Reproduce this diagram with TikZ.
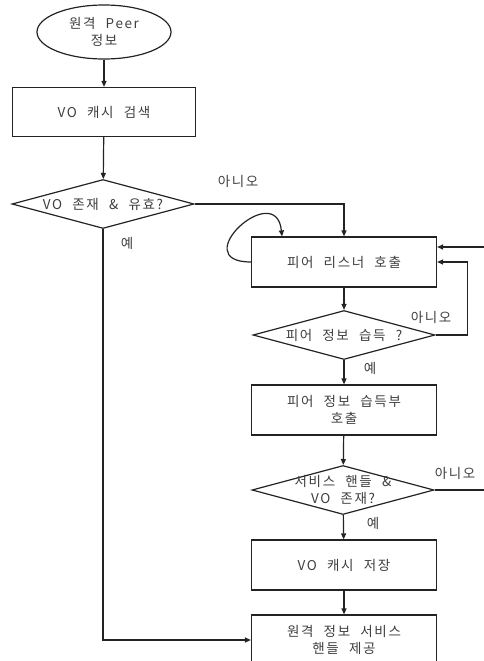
\documentclass[tikz,border=0pt]{standalone}
\usepackage{fontspec}
\newfontfamily\krfont[LetterSpace=12, WordSpace=2.2]{Noto Sans CJK KR}
\usetikzlibrary{arrows.meta,shapes.geometric}
\definecolor{txtgray}{RGB}{62,62,62}
\definecolor{linegray}{RGB}{35,35,35}
\begin{document}
\begin{tikzpicture}[x=1pt, y=-1pt,
  every node/.style={font=\krfont\fontsize{13.5}{16.5}\selectfont, text=txtgray, align=center},
  term/.style={draw=linegray, ellipse, line width=1.2pt, minimum width=134pt, minimum height=54pt, inner sep=0pt},
  proc/.style={draw=linegray, line width=1.2pt, minimum width=185pt, minimum height=50pt, inner sep=0pt},
  decision/.style={draw=linegray, diamond, aspect=3.7, line width=1.2pt, minimum width=182pt, minimum height=49pt, inner sep=0pt},
  arr/.style={draw=linegray, -{Triangle[length=6pt,width=5pt]}, line width=1.2pt},
]
\useasboundingbox (0,0) rectangle (484,661);
\node[term] (start) at (104,32) {원격 Peer\\정보};
\node[proc, minimum width=183pt, minimum height=49pt] (srch) at (104,112) {VO 캐시 검색};
\node[decision] (d1) at (103,204) {VO 존재 \& 유효?};
\node[proc] (lsn) at (344,262) {피어 리스너 호출};
\node[decision] (d2) at (344,335) {피어 정보 습득 ?};
\node[proc] (acq) at (344,410) {피어 정보 습득부\\호출};
\node[decision, inner ysep=-6pt] (d3) at (343,490) {서비스 핸들 \&\\VO 존재?};
\node[proc] (save) at (344,565) {VO 캐시 저장};
\node[proc] (out) at (344,640) {원격 정보 서비스\\핸들 제공};
% main flow
\draw[arr] (start) -- (srch);
\draw[arr] (srch) -- (d1);
\draw[arr] (lsn) -- (d2);
\draw[arr] (d2) -- (acq);
\draw[arr] (acq) -- (d3);
\draw[arr] (d3) -- (save);
\draw[arr] (save) -- (out);
% branches
\draw[arr] (d1.east) -| (lsn.north);
\draw[arr] (d1.south) |- (out.west);
\draw[arr] (lsn.west) .. controls (185,262) and (276,178) .. ([xshift=-62pt]lsn.north);
\draw[arr] (d2.east) -- ++(32,0) |- (lsn.east);
\draw[arr] (d3.east) -- ++(60,0) |- ([yshift=15pt]lsn.east);
% labels
\node (no1) at (238,181) {아니오};
\node (yes1) at (127,243) {예};
\node (no2) at (431,317) {아니오};
\node (yes2) at (370,368) {예};
\node (no3) at (455,473) {아니오};
\node (yes3) at (373,523) {예};
\end{tikzpicture}
\end{document}
